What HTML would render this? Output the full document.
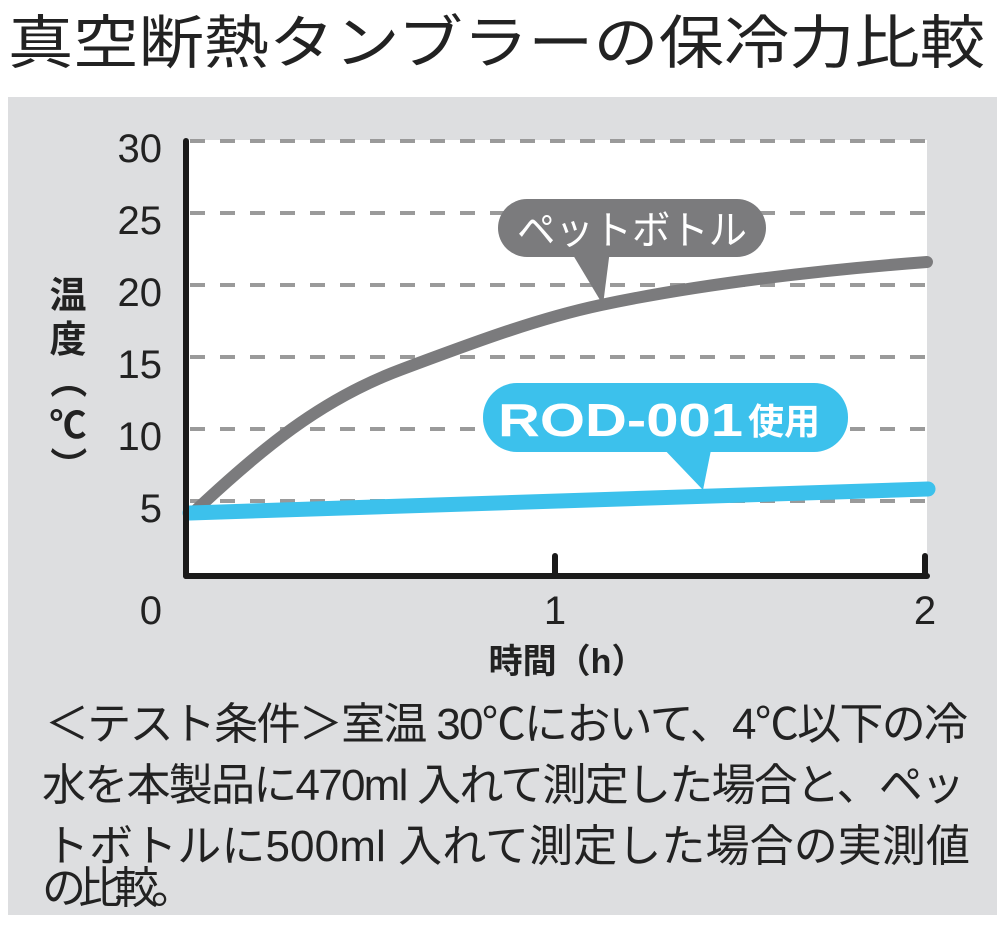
<!DOCTYPE html>
<html><head><meta charset="utf-8"><style>
html,body{margin:0;padding:0;background:#fff;}
svg{display:block;}
text{font-family:"Liberation Sans","Noto Sans CJK JP",sans-serif;}
</style></head><body>
<svg width="1000" height="927" viewBox="0 0 1000 927" xmlns="http://www.w3.org/2000/svg">
<rect width="1000" height="927" fill="#fff"/>
<text x="8" y="63" font-size="58" fill="#222" textLength="977" lengthAdjust="spacingAndGlyphs">真空断熱タンブラーの保冷力比較</text>
<rect x="8" y="97" width="989" height="818" fill="#dddee0"/>
<rect x="186" y="140" width="741" height="435" fill="#fff"/>
<g stroke="#9a9a9a" stroke-width="4" stroke-dasharray="15 15">
<line x1="190" y1="141" x2="927" y2="141"/>
<line x1="190" y1="213" x2="927" y2="213"/>
<line x1="190" y1="285" x2="927" y2="285"/>
<line x1="190" y1="357" x2="927" y2="357"/>
<line x1="190" y1="429" x2="927" y2="429"/>
<line x1="190" y1="501" x2="927" y2="501"/>
</g>
<path d="M195,511 C260,450 320,400 400,370 C480,340 540,318 601,305 C700,284 820,270 927,262" fill="none" stroke="#7b7b7d" stroke-width="12" stroke-linecap="round"/>
<line x1="190" y1="513" x2="928" y2="489" stroke="#3cc1ec" stroke-width="15" stroke-linecap="round"/>
<g fill="#7b7b7d">
<rect x="498" y="199" width="268" height="58" rx="29"/>
<polygon points="570,250 610,250 603,305"/>
</g>
<text x="632" y="244" font-size="40" fill="#fff" text-anchor="middle" textLength="230" lengthAdjust="spacingAndGlyphs">ペットボトル</text>
<g fill="#3cc1ec">
<rect x="483" y="383" width="365" height="69" rx="34"/>
<polygon points="660,445 712,445 703,490"/>
</g>
<text x="498" y="436" font-size="46" font-weight="bold" fill="#fff" textLength="245" lengthAdjust="spacingAndGlyphs">ROD-001</text>
<text x="748" y="434" font-size="36" font-weight="bold" fill="#fff">使用</text>
<g stroke="#1a1a1a" stroke-width="6" stroke-linecap="round" fill="none">
<line x1="186" y1="141" x2="186" y2="576"/>
<line x1="186" y1="576" x2="927" y2="576"/>
<line x1="555" y1="556" x2="555" y2="576"/>
<line x1="925" y1="556" x2="925" y2="576"/>
</g>
<g font-size="40" fill="#222" text-anchor="end">
<text x="162" y="162">30</text>
<text x="162" y="234">25</text>
<text x="162" y="306">20</text>
<text x="162" y="378">15</text>
<text x="162" y="450">10</text>
<text x="162" y="522">5</text>
<text x="162" y="624">0</text>
</g>
<g font-size="40" fill="#222" text-anchor="middle">
<text x="555" y="624">1</text>
<text x="925" y="624">2</text>
</g>
<text x="567" y="673" font-size="34" font-weight="bold" fill="#222" text-anchor="middle">時間（h）</text>
<g font-size="37" font-weight="bold" fill="#222" text-anchor="middle">
<text x="68" y="308">温</text>
<text x="68" y="352">度</text>
<text x="68" y="393" transform="rotate(90 68 380)">（</text>
<text x="68" y="438">℃</text>
<text x="68" y="478" transform="rotate(90 68 465)">）</text>
</g>
<g font-size="44" fill="#222" lengthAdjust="spacingAndGlyphs">
<text x="45" y="739" textLength="923">＜テスト条件＞室温 30℃において、4℃以下の冷</text>
<text x="42" y="800" textLength="923">水を本製品に470ml 入れて測定した場合と、ペッ</text>
<text x="45" y="861" textLength="925">トボトルに500ml 入れて測定した場合の実測値</text>
<text x="42" y="903" textLength="153">の比較。</text>
</g>
</svg>
</body></html>
